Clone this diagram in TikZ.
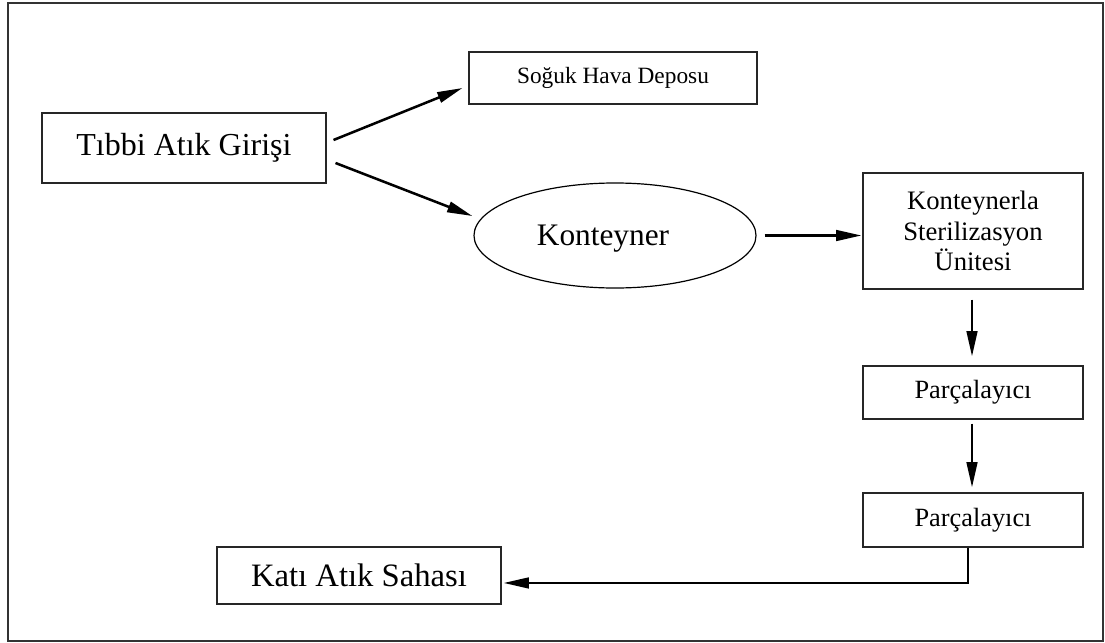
\documentclass[tikz,border=0pt]{standalone}
\usepackage{fontspec}
\setmainfont{Liberation Serif}
\usetikzlibrary{arrows.meta,shapes.geometric}
\tikzset{
  box/.style={draw=black!85, line width=0.8pt, rectangle, inner sep=0pt, align=center},
  oval/.style={draw=black, line width=0.9pt, ellipse, inner sep=0pt},
  arr/.style={line width=1.9pt, -{Triangle[length=19pt,width=8pt]}},
}
\begin{document}
\begin{tikzpicture}[x=0.75pt,y=-0.75pt]
\useasboundingbox (0,0) rectangle (1105,642);
\draw[line width=1pt, black!80] (8,3) rectangle (1103,641);
\node[box, minimum width=213pt, minimum height=52.5pt, font=\fontsize{24}{28}\selectfont] (tibbi) at (184,148) {Tıbbi Atık Girişi};
\node[box, minimum width=216pt, minimum height=39pt, font=\fontsize{17.5}{21}\selectfont] (soguk) at (613,78) {Soğuk Hava Deposu};
\node[oval, minimum width=211.5pt, minimum height=78.75pt, text depth=0pt, font=\fontsize{23.5}{28}\selectfont] (kont) at (615,235.5) {Konteyner\hspace*{18pt}};
\node[box, minimum width=165pt, minimum height=87pt, font=\fontsize{20}{23}\selectfont] (ster) at (973,231) {Konteynerla\\Sterilizasyon\\Ünitesi};
\node[box, minimum width=165pt, minimum height=39.75pt, font=\fontsize{19.75}{23}\selectfont] (parc1) at (973,392.5) {Parçalayıcı};
\node[box, minimum width=165pt, minimum height=40.5pt, font=\fontsize{19.75}{23}\selectfont] (parc2) at (973,520) {Parçalayıcı};
\node[box, minimum width=213pt, minimum height=42.75pt, font=\fontsize{24.5}{28}\selectfont] (kati) at (359,575.5) {Katı Atık Sahası};
\draw[arr] ([xshift=5.25pt,yshift=6pt]tibbi.east) -- ([xshift=-4.5pt,yshift=-7.5pt]soguk.west);
\draw[arr] ([xshift=6.75pt,yshift=-11.25pt]tibbi.east) -- ([xshift=-0.75pt,yshift=14.6pt]kont.west);
\draw[arr] ([xshift=6pt]kont.east) -- ([xshift=-0.75pt]kont.east -| ster.west);
\draw[arr] ([xshift=-0.75pt,yshift=-7.5pt]ster.south) -- ([xshift=-0.75pt,yshift=6.75pt]parc1.north);
\draw[arr] ([xshift=-0.75pt,yshift=-3pt]parc1.south) -- ([xshift=-0.75pt,yshift=3.75pt]parc2.north);
\draw[arr] ([xshift=-3.75pt]parc2.south) |- ([xshift=1.5pt,yshift=-5.6pt]kati.east);
\end{tikzpicture}
\end{document}
